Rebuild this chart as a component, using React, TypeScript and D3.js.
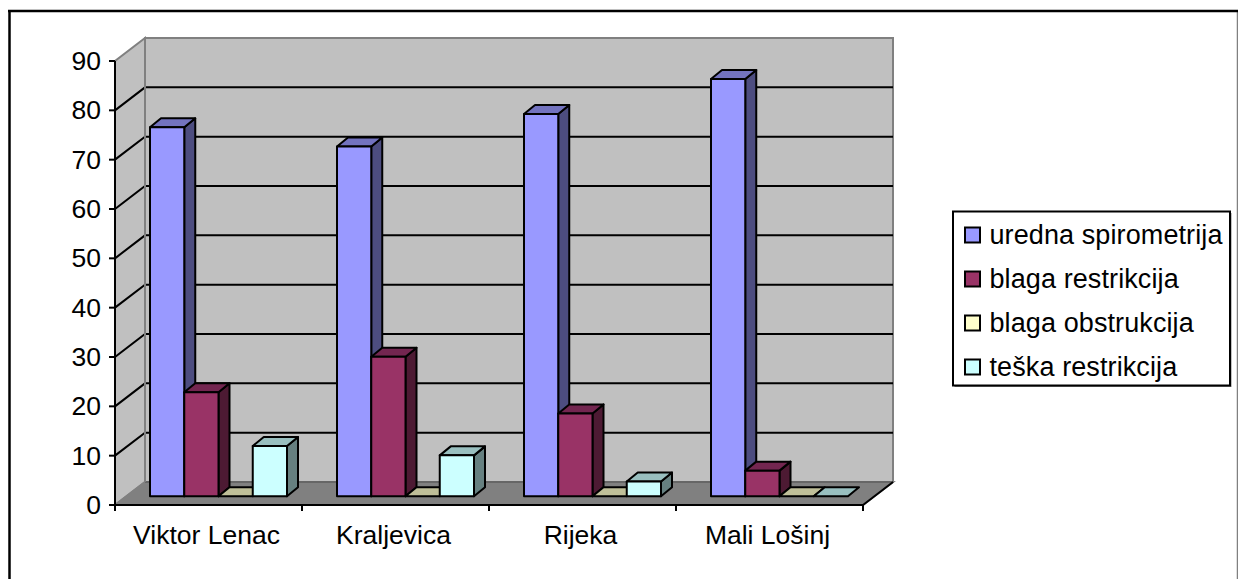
import React from "react";
import * as d3 from "d3";

const categories = ["Viktor Lenac", "Kraljevica", "Rijeka", "Mali Lošinj"];
const seriesNames = ["uredna spirometrija", "blaga restrikcija", "blaga obstrukcija", "teška restrikcija"];
const urednaValues = [74.8, 70.9, 77.5, 84.6];
const blagaRestrikcijaValues = [21.1, 28.3, 16.8, 5.2];
const blagaObstrukcijaValues = [0, 0, 0, 0];
const teskaRestrikcijaValues = [10.2, 8.3, 3, 0];
const yTicks = [0, 10, 20, 30, 40, 50, 60, 70, 80, 90];

const seriesValues = [urednaValues, blagaRestrikcijaValues, blagaObstrukcijaValues, teskaRestrikcijaValues];
const colors = ["#9999ff", "#993366", "#ffffcc", "#ccffff"];
const topColors = ["#7373bf", "#732650", "#bfbf99", "#99bfbf"];
const sideColors = ["#4d4d80", "#4d1a33", "#808066", "#668080"];

const FONT = "'Liberation Sans', Arial, sans-serif";
const W = 1238, H = 579;
const DX = 30, DY = -23;
const BDX = 11, BDY = -9;

export default function App() {
  const y = d3.scaleLinear().domain([0, 90]).range([505, 61]);
  const x = d3.scaleBand().domain(categories).range([115, 863]);
  const inner = d3.scaleBand().domain(seriesNames).range([0, 137]);
  const barLeft = 35;
  const baseY = 496.3;
  const unit = y(0) - y(1);
  const poly = (pts: number[][]) => pts.map((p) => p.join(",")).join(" ");
  const xL = x.range()[0], xR = x.range()[1];
  const y0 = y(0), yT = y(90);
  const edgeGray = "#808080";

  const bars: React.ReactNode[] = [];
  categories.forEach((c, ci) => {
    seriesNames.forEach((s, si) => {
      const v = seriesValues[si][ci];
      const bw = inner.bandwidth();
      const l = x(c)! + barLeft + inner(s)!;
      const r = l + bw;
      const top = baseY - v * unit;
      const stroke = { stroke: "#000", strokeWidth: 2, strokeLinejoin: "round" as const };
      bars.push(
        <g key={c + s}>
          {v > 0 && <polygon points={poly([[r, top], [r + BDX, top + BDY], [r + BDX, baseY + BDY], [r, baseY]])} fill={sideColors[si]} {...stroke} />}
          <polygon points={poly([[l, top], [l + BDX, top + BDY], [r + BDX, top + BDY], [r, top]])} fill={topColors[si]} {...stroke} />
          {v > 0 && <rect x={l} y={top} width={bw} height={baseY - top} fill={colors[si]} {...stroke} />}
        </g>
      );
    });
  });

  return (
    <svg width={W} height={H} viewBox={`0 0 ${W} ${H}`} style={{ position: "absolute", left: 0, top: 0, display: "block" }} fontFamily={FONT}>
      <rect x={0} y={0} width={W} height={H} fill="#fff" />
      {/* frame */}
      <line x1={1237.5} x2={1237.5} y1={10} y2={H} stroke="#808080" strokeWidth={1.5} />
      <line x1={9.5} x2={9.5} y1={10} y2={H} stroke="#000" strokeWidth={2.5} />
      <line x1={8} x2={1238} y1={11} y2={11} stroke="#000" strokeWidth={2.5} />

      {/* back wall */}
      <rect x={xL + DX} y={yT + DY} width={xR - xL} height={y0 - yT} fill="#c0c0c0" stroke={edgeGray} strokeWidth={2} />
      {/* left wall */}
      <polygon points={poly([[xL, y0], [xL + DX, y0 + DY], [xL + DX, yT + DY], [xL, yT]])} fill="#c0c0c0" stroke={edgeGray} strokeWidth={2} />
      {/* floor */}
      <polygon points={poly([[xL, y0], [xL + DX, y0 + DY], [xR + DX, y0 + DY], [xR, y0]])} fill="#808080" stroke={edgeGray} strokeWidth={2} />

      {/* gridlines */}
      {yTicks.filter((t) => t > 0 && t < 90).map((t) => (
        <polyline key={t} points={poly([[xL, y(t)], [xL + DX, y(t) + DY], [xR + DX, y(t) + DY]])} fill="none" stroke="#000" strokeWidth={2} />
      ))}
      <line x1={xL + DX} x2={xR + DX} y1={y0 + DY} y2={y0 + DY} stroke="#666" strokeWidth={2} />
      <line x1={xL + DX} x2={xL + DX} y1={yT + DY} y2={y0 + DY} stroke={edgeGray} strokeWidth={2} />
      <line x1={xR} x2={xR + DX} y1={y0} y2={y0 + DY} stroke="#000" strokeWidth={2} />

      {bars}

      {/* axes */}
      <line x1={xL} x2={xL} y1={yT} y2={y0} stroke="#000" strokeWidth={2} />
      <line x1={xL} x2={xR} y1={y0} y2={y0} stroke="#000" strokeWidth={2} />
      {yTicks.map((t) => (
        <g key={t}>
          <line x1={xL - 6} x2={xL} y1={y(t)} y2={y(t)} stroke="#000" strokeWidth={2} />
          <text x={xL - 14} y={y(t) + 9} textAnchor="end" fontSize={26.5} fill="#000">{t}</text>
        </g>
      ))}
      {[...categories.map((c) => x(c)!), xR].map((p) => (
        <line key={p} x1={p} x2={p} y1={y0} y2={y0 + 6} stroke="#000" strokeWidth={2} />
      ))}
      {categories.map((c) => (
        <text key={c} x={x(c)! + x.bandwidth() / 2 - 2} y={544} textAnchor="middle" fontSize={26.5} fill="#000">{c}</text>
      ))}

      {/* legend */}
      <rect x={954.5} y={213} width={277} height={174} fill="#808080" />
      <rect x={953} y={211.5} width={277} height={174} fill="#fff" stroke="#000" strokeWidth={2} />
      {seriesNames.map((s, i) => {
        const ly = d3.scaleLinear().domain([0, 3]).range([235, 367])(i);
        return (
          <g key={s}>
            <rect x={965} y={ly - 7.5} width={15} height={15} fill={colors[i]} stroke="#000" strokeWidth={2} />
            <text x={989.5} y={ly + 9} fontSize={27} letterSpacing={0.1} fill="#000">{s}</text>
          </g>
        );
      })}
    </svg>
  );
}
